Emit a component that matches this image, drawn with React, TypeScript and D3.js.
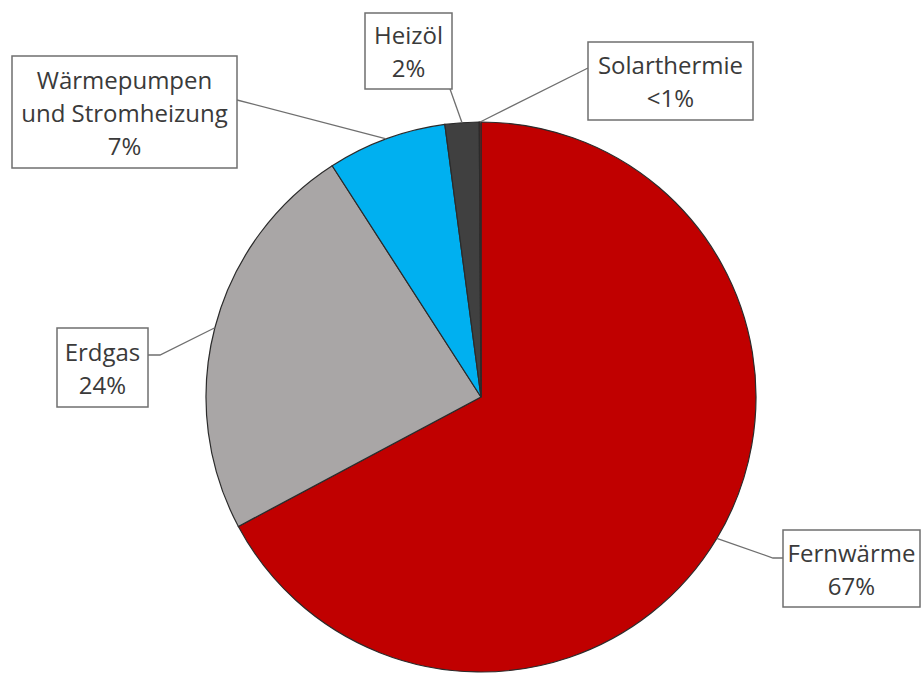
import React from "react";
import * as d3 from "d3";

// Heating energy sources, share of total (percent)
const categories = ["Fernwärme", "Erdgas", "Wärmepumpen und Stromheizung", "Heizöl", "Solarthermie"];
const shares = [67.2, 23.7, 7.0, 2.0, 0.1];
const shareLabels = ["67%", "24%", "7%", "2%", "<1%"];
const labelLines = [["Fernwärme"], ["Erdgas"], ["Wärmepumpen", "und Stromheizung"], ["Heizöl"], ["Solarthermie"]];
const colors = ["#C00000", "#A9A6A6", "#00B0F0", "#404040", "#8a1a1a"];

// Label box layout: [x, y, width, height] and the leader-line elbow (if any)
const boxes: [number, number, number, number][] = [
  [783, 530, 137, 77],
  [57, 328, 91, 79],
  [12, 56, 225, 112],
  [365, 13, 87, 76],
  [588, 42, 165, 78],
];
const leaderEnds: [number, number][][] = [
  [[773, 558], [783, 558]],
  [[160, 355], [148, 355]],
  [[237, 100]],
  [[450, 89]],
  [[588, 68]],
];

const W = 924;
const H = 675;
const cx = 481;
const cy = 397;
const R = 275;
const lineH = 33;

export default function App() {
  const pie = d3
    .pie<number>()
    .sort(null)
    .value((d) => d)
    .startAngle(0)
    .endAngle(2 * Math.PI);
  const arcs = pie(shares);
  const arcGen = d3.arc<d3.PieArcDatum<number>>().innerRadius(0).outerRadius(R);

  return (
    <svg
      width={W}
      height={H}
      style={{ position: "absolute", left: 0, top: 0, background: "#fff" }}
      fontFamily="'Open Sans', sans-serif"
    >
      <g transform={`translate(${cx},${cy})`}>
        {arcs.map((a, i) => (
          <path key={categories[i]} d={arcGen(a) || ""} fill={colors[i]} stroke="#2b2b2b" strokeWidth={1.2} />
        ))}
      </g>
      {arcs.map((a, i) => {
        const mid = (a.startAngle + a.endAngle) / 2;
        const sx = cx + Math.sin(mid) * R;
        const sy = cy - Math.cos(mid) * R;
        const pts: [number, number][] = [[sx, sy], ...leaderEnds[i]];
        const line = d3.line()(pts) || "";
        return <path key={"l" + i} d={line} fill="none" stroke="#6f6f6f" strokeWidth={1.3} />;
      })}
      {boxes.map(([x, y, w, h], i) => {
        const lines = [...labelLines[i], shareLabels[i]];
        const top = y + h / 2 - ((lines.length - 1) * lineH) / 2;
        return (
          <g key={"b" + i}>
            <rect x={x} y={y} width={w} height={h} fill="#fff" stroke="#6f6f6f" strokeWidth={1.5} />
            {lines.map((t, j) => (
              <text
                key={j}
                x={x + w / 2}
                y={top + j * lineH}
                textAnchor="middle"
                dominantBaseline="central"
                fontSize={24}
                fill="#3a3a3a"
              >
                {t}
              </text>
            ))}
          </g>
        );
      })}
    </svg>
  );
}
